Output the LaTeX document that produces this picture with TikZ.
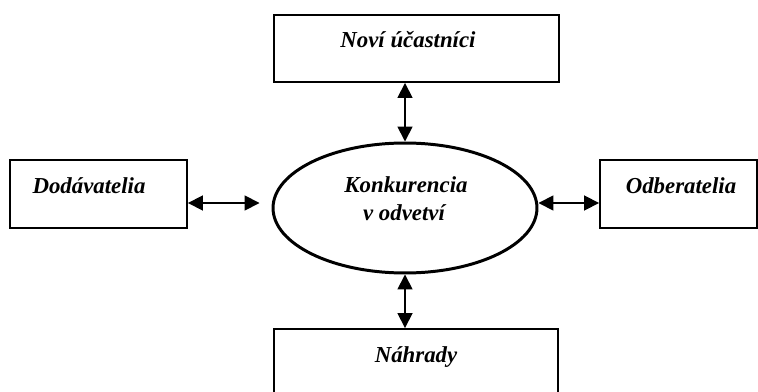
\documentclass[tikz,border=0pt]{standalone}
\usepackage{fontspec}
\setmainfont{Liberation Serif}
\usetikzlibrary{arrows.meta,shapes.geometric}

\begin{document}
\begin{tikzpicture}[x=0.02cm,y=-0.02cm,
  box/.style={draw=black, line width=1.1pt, inner sep=0pt},
  lbl/.style={font=\fontsize{13}{16}\selectfont\bfseries\itshape, inner sep=0pt},
  link/.style={{Triangle[width=0.3cm,length=0.3cm]}-{Triangle[width=0.3cm,length=0.3cm]}, line width=1pt}]
  \useasboundingbox (0,0) rectangle (758,392);

  \node[ellipse, draw=black, line width=1.7pt, minimum width=5.28cm, minimum height=2.6cm, inner sep=0pt] (konk) at (405,208) {};
  \node[box, minimum width=5.7cm, minimum height=1.34cm] (novi) at (416.5,48.5) {};
  \node[box, minimum width=3.54cm, minimum height=1.36cm] (dod) at (98.5,194) {};
  \node[box, minimum width=3.14cm, minimum height=1.36cm] (odb) at (678.5,194) {};
  \node[box, minimum width=5.68cm, minimum height=1.42cm] (nahr) at (416,364.5) {};

  \node[lbl, anchor=base] (novitxt) at (408,48) {Noví účastníci};
  \node[lbl, anchor=base] (dodtxt) at (89,193) {Dodávatelia};
  \node[lbl, anchor=base] (odbtxt) at (681,193) {Odberatelia};
  \node[lbl, anchor=base] (nahrtxt) at (416,362) {Náhrady};
  \node[lbl, anchor=base] (konktxt) at (406,192) {Konkurencia};
  \node[lbl, anchor=base] (odvtxt) at (404,220) {v odvetví};

  \draw[link] (konk.north) -- (konk.north |- novi.south);
  \draw[link] (konk.south) -- (konk.south |- nahr.north);
  \draw[link, shorten >=0.24cm] ([yshift=-0.18cm]dod.east) -- ([yshift=0.1cm]konk.west);
  \draw[link] ([yshift=0.1cm]konk.east) -- ([yshift=-0.18cm]odb.west);
\end{tikzpicture}
\end{document}
